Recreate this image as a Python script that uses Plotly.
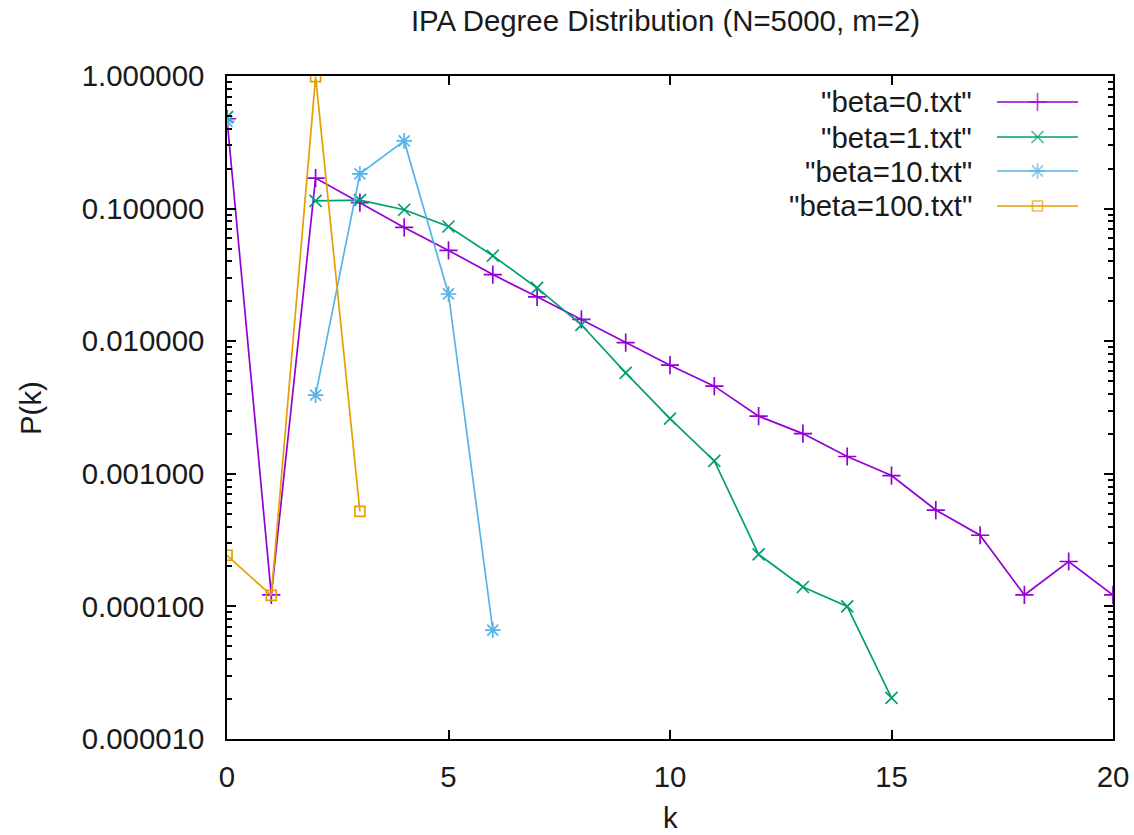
import plotly.graph_objects as go

# Degree distribution P(k) for each beta run (None = no nodes with that degree)
k_beta0 = list(range(0, 21))
p_beta0 = [0.476, 0.000122, 0.170, 0.111, 0.0721, 0.0484, 0.0318, 0.0216, 0.0146,
           0.00975, 0.00659, 0.00458, 0.00272, 0.00201, 0.00135, 0.00097,
           0.000533, 0.000344, 0.000122, 0.000218, 0.000122]

k_beta1 = list(range(0, 16))
p_beta1 = [0.49, None, 0.1145, 0.116, 0.098, 0.0733, 0.0441, 0.0252, 0.0133,
           0.00577, 0.00261, 0.00125, 0.000247, 0.000140, 0.000100, 0.0000204]

k_beta10 = list(range(0, 7))
p_beta10 = [0.455, None, 0.00392, 0.183, 0.324, 0.0227, 0.0000662]

k_beta100 = list(range(0, 4))
p_beta100 = [0.000243, 0.000121, 0.99, 0.000521]

series_names = ['"beta=0.txt"', '"beta=1.txt"', '"beta=10.txt"', '"beta=100.txt"']
series_colors = ["#9400d3", "#009e73", "#56b4e9", "#e69f00"]
series_symbols = ["cross-thin-open", "x-thin-open", "asterisk-open", "square-open"]
series_sizes = [13, 12, 13, 10]

y_tick_vals = [1e-5, 1e-4, 1e-3, 1e-2, 1e-1, 1.0]
x_tick_vals = [0, 5, 10, 15, 20]

FONT = "Liberation Sans, Arial, sans-serif"
TEXT = "#1a1a1a"
FS = 29.4

# plot-area geometry in pixels
W, H = 1134, 835
L, R, T, B = 227, 21, 76, 96
PW, PH = W - L - R, H - T - B


def px_to_paper(px, py):
    return (px - L) / PW, (H - B - py) / PH


fig = go.Figure()

data = [(k_beta0, p_beta0), (k_beta1, p_beta1), (k_beta10, p_beta10), (k_beta100, p_beta100)]
for (ks, ps), name, col, sym, sz in zip(data, series_names, series_colors, series_symbols, series_sizes):
    fig.add_trace(go.Scatter(
        x=ks, y=ps, name=name, mode="lines+markers", connectgaps=False,
        line=dict(color=col, width=1.7),
        marker=dict(symbol=sym, size=sz, color=col, line=dict(color=col, width=1.7)),
        showlegend=False,
    ))

# key: text right-aligned, then a line sample with the point symbol
key_rows_py = [102, 137, 171, 206]
key_text_px = 974
key_line_px = (997, 1078)
for name, col, sym, sz, py in zip(series_names, series_colors, series_symbols, series_sizes, key_rows_py):
    x0, yk = px_to_paper(key_line_px[0], py)
    x1, _ = px_to_paper(key_line_px[1], py)
    xm = (x0 + x1) / 2
    fig.add_trace(go.Scatter(
        x=[x0, xm, x1], y=[yk, yk, yk], xaxis="x2", yaxis="y2",
        mode="lines+markers", showlegend=False, hoverinfo="skip",
        line=dict(color=col, width=1.7),
        marker=dict(symbol=sym, size=[0, sz, 0], color=col, line=dict(color=col, width=1.7)),
    ))
    xt, _ = px_to_paper(key_text_px, py)
    fig.add_annotation(x=xt, y=yk, xref="paper", yref="paper", text=name,
                       showarrow=False, xanchor="right", yanchor="middle",
                       font=dict(family=FONT, size=FS, color=TEXT))

# axis titles
ax, ay = px_to_paper(30, 408)
fig.add_annotation(x=ax, y=ay, xref="paper", yref="paper", text="P(k)", textangle=-90,
                   showarrow=False, xanchor="center", yanchor="middle",
                   font=dict(family=FONT, size=FS, color=TEXT))
kx, ky = px_to_paper(670, 817)
fig.add_annotation(x=kx, y=ky, xref="paper", yref="paper", text="k",
                   showarrow=False, xanchor="center", yanchor="middle",
                   font=dict(family=FONT, size=FS, color=TEXT))

minor_vals = [m * 10 ** e for e in range(-5, 0) for m in range(2, 10)]

fig.update_layout(
    width=W, height=H,
    margin=dict(l=L, r=R, t=T, b=B, pad=0, autoexpand=False),
    paper_bgcolor="white", plot_bgcolor="white",
    font=dict(family=FONT, size=FS, color=TEXT),
    title=dict(text="IPA Degree Distribution (N=5000, m=2)", x=665.5 / W, xref="container",
               xanchor="center", y=1 - 21 / H, yref="container", yanchor="middle",
               font=dict(family=FONT, size=FS, color=TEXT)),
    xaxis=dict(range=[0, 20], tickvals=x_tick_vals, ticks="inside", ticklen=9,
               tickwidth=1.5, tickcolor="black", showline=True, linecolor="black",
               linewidth=1.5, mirror="ticks", showgrid=False, zeroline=False,
               automargin=False, ticklabelstandoff=11, tickfont=dict(size=FS, color=TEXT)),
    yaxis=dict(type="log", range=[-5, 0], tickvals=y_tick_vals, tickformat=".6f",
               ticks="inside", ticklen=9, tickwidth=1.5, tickcolor="black",
               showline=True, linecolor="black", linewidth=1.5, mirror="ticks",
               showgrid=False, zeroline=False, automargin=False, ticklabelstandoff=15,
               tickfont=dict(size=FS, color=TEXT),
               minor=dict(tickvals=minor_vals, ticks="inside", ticklen=5,
                          tickwidth=1.5, tickcolor="black", showgrid=False)),
    xaxis2=dict(range=[0, 1], overlaying="x", visible=False, fixedrange=True),
    yaxis2=dict(range=[0, 1], overlaying="y", visible=False, fixedrange=True),
    showlegend=False,
)

fig.write_html("out.html")
